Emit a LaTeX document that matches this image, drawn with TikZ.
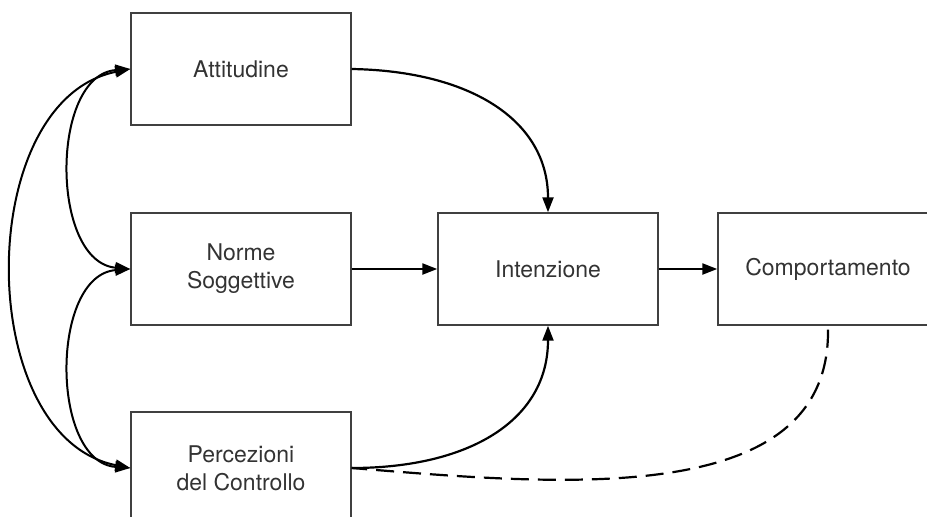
\documentclass[tikz,border=0pt]{standalone}
\usepackage{fontspec}
\setmainfont{TeX Gyre Heros}
\usetikzlibrary{arrows.meta}
\begin{document}
\begin{tikzpicture}[x=1pt,y=-1pt,
  box/.style={draw=black!75, line width=1.4pt, minimum width=220pt, minimum height=112pt,
    inner sep=0pt, align=center, text=black!80, font=\fontsize{23}{28}\selectfont},
  link/.style={line width=2.2pt, -{Triangle[length=15pt,width=11pt]}},
  both/.style={line width=2pt, {Triangle[length=15pt,width=11pt]}-{Triangle[length=15pt,width=11pt]}},
  moder/.style={line width=2.2pt, dash pattern=on 18pt off 9pt}]
\useasboundingbox (0,0) rectangle (927,517);
\clip (0,0) rectangle (927,517);

% the five constructs
\node[box] (att)   at (241,69)  {Attitudine};
\node[box] (norme) at (241,269) {Norme\\Soggettive};
\node[box] (perc)  at (241,468) {Percezioni\\del Controllo};
\node[box] (int)   at (548,269) {Intenzione};
\node[box] (comp)  at (828,269) {Comportamento};

% correlations among the antecedents
\draw[both] (att.west) .. controls (50,75) and (50,262) .. (norme.west);
\draw[both] (norme.west) .. controls (50,275) and (50,462) .. (perc.west);
\draw[both] (att.west) .. controls (-27,100) and (-27,437) .. (perc.west);

% paths to intention and behaviour
\draw[link] (att.east) .. controls (470,71) and (548,120) .. (int.north);
\draw[link] (norme.east) -- (int.west);
\draw[link] (perc.east) .. controls (470,468) and (548,420) .. (int.south);
\draw[link] (int.east) -- (comp.west);

% direct link from perceived control to behaviour
\draw[moder] ([yshift=-4pt]comp.south) .. controls (830,510) and (560,485) .. (perc.east);
\end{tikzpicture}
\end{document}
